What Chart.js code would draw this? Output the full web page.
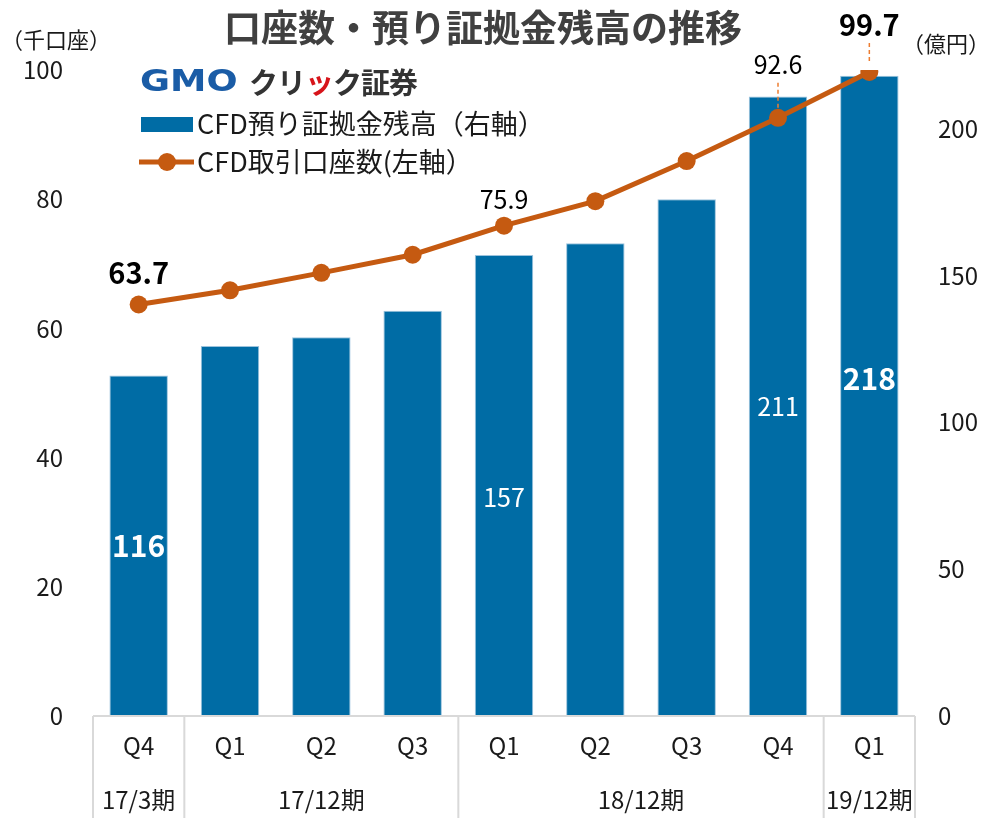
<!DOCTYPE html>
<html lang="ja">
<head>
<meta charset="utf-8">
<title>口座数・預り証拠金残高の推移</title>
<script src="https://cdn.jsdelivr.net/npm/chart.js@4/dist/chart.umd.min.js"></script>
<style>
  html, body { margin: 0; padding: 0; background: #fff; }
  #wrap { position: relative; width: 984px; height: 818px; }
</style>
</head>
<body>
<div id="wrap"><canvas id="chart"></canvas></div>
<script>
// data
const quarters = ['Q4', 'Q1', 'Q2', 'Q3', 'Q1', 'Q2', 'Q3', 'Q4', 'Q1'];
const fiscalGroups = [
  { label: '17/3期', from: 0, to: 0 },
  { label: '17/12期', from: 1, to: 3 },
  { label: '18/12期', from: 4, to: 7 },
  { label: '19/12期', from: 8, to: 8 }
];
const marginBalance = [116, 126, 129, 138, 157, 161, 176, 211, 218]; // 億円, right axis
const accountCount = [63.7, 65.9, 68.6, 71.4, 75.9, 79.7, 85.9, 92.6, 99.7]; // 千口座, left axis
const leftTicks = [0, 20, 40, 60, 80, 100];
const rightTicks = [0, 50, 100, 150, 200];

// which points carry a value label, and how it looks
const lineLabels = [
  { index: 0, bold: true, lift: 32, leader: false },
  { index: 4, bold: false, lift: 26, leader: false },
  { index: 7, bold: false, lift: 53, leader: true },
  { index: 8, bold: true, lift: 47, leader: true }
];
const barLabels = [
  { index: 0, bold: true, dy: 0 },
  { index: 4, bold: false, dy: 12 },
  { index: 7, bold: false, dy: 0 },
  { index: 8, bold: true, dy: -17 }
];

const FONT = "'Noto Sans CJK JP', 'Noto Sans', sans-serif";
const BAR_COLOR = '#006ca5';
const LINE_COLOR = '#c55a11';
const TEXT_COLOR = '#1a1a1a';
const FRAME_COLOR = '#d9d9d9';

// title, units, logo and legend
const headerPlugin = {
  id: 'header',
  afterDraw(chart) {
    const ctx = chart.ctx;
    ctx.save();
    ctx.textBaseline = 'middle';

    ctx.fillStyle = '#404040';
    ctx.textAlign = 'center';
    ctx.font = 'bold 37px ' + FONT;
    ctx.fillText('口座数・預り証拠金残高の推移', 483, 28);

    ctx.fillStyle = TEXT_COLOR;
    ctx.font = '22px ' + FONT;
    ctx.fillText('（千口座）', 56, 40);
    ctx.fillText('（億円）', 946, 44);

    // logo
    ctx.save();
    ctx.translate(140, 83);
    ctx.scale(1.22, 1);
    ctx.textAlign = 'left';
    ctx.fillStyle = '#1a5ca6';
    ctx.font = 'bold 30px "DejaVu Sans"';
    ctx.fillText('GMO', 0, 0);
    ctx.restore();
    ctx.textAlign = 'left';
    ctx.font = 'bold 29px ' + FONT;
    let x = 249;
    for (const ch of ['ク', 'リ', 'ッ', 'ク', '証', '券']) {
      ctx.fillStyle = ch === 'ッ' ? '#d7141a' : '#333333';
      ctx.fillText(ch, x, 83);
      x += ctx.measureText(ch).width - 1;
    }

    // legend
    ctx.fillStyle = BAR_COLOR;
    ctx.fillRect(141, 117, 52, 15);
    ctx.strokeStyle = LINE_COLOR;
    ctx.lineWidth = 5;
    ctx.beginPath();
    ctx.moveTo(139, 162);
    ctx.lineTo(194, 162);
    ctx.stroke();
    ctx.fillStyle = LINE_COLOR;
    ctx.beginPath();
    ctx.arc(167, 162, 9, 0, Math.PI * 2);
    ctx.fill();

    ctx.fillStyle = TEXT_COLOR;
    ctx.font = '27px ' + FONT;
    ctx.fillText('CFD預り証拠金残高（右軸）', 197, 124);
    ctx.fillText('CFD取引口座数(左軸）', 197, 162);
    ctx.restore();
  }
};

// category frame: base line, period separators and period names
const framePlugin = {
  id: 'frame',
  afterDraw(chart) {
    const ctx = chart.ctx;
    const xs = chart.scales.x;
    const area = chart.chartArea;
    const step = (area.right - area.left) / quarters.length;
    ctx.save();
    ctx.strokeStyle = FRAME_COLOR;
    ctx.lineWidth = 2;
    ctx.beginPath();
    ctx.moveTo(area.left, area.bottom);
    ctx.lineTo(area.right, area.bottom);
    fiscalGroups.forEach((g, i) => {
      const left = xs.getPixelForValue(g.from) - step / 2;
      const right = xs.getPixelForValue(g.to) + step / 2;
      if (i === 0) {
        ctx.moveTo(left, area.bottom);
        ctx.lineTo(left, chart.height);
      }
      ctx.moveTo(right, area.bottom);
      ctx.lineTo(right, chart.height);
    });
    ctx.stroke();

    ctx.fillStyle = TEXT_COLOR;
    ctx.font = '24px ' + FONT;
    ctx.textAlign = 'center';
    ctx.textBaseline = 'middle';
    fiscalGroups.forEach(g => {
      const cx = (xs.getPixelForValue(g.from) + xs.getPixelForValue(g.to)) / 2;
      ctx.fillText(g.label, cx, 800);
    });
    ctx.restore();
  }
};

// value labels on the bars and the line
const valuePlugin = {
  id: 'values',
  afterDatasetsDraw(chart) {
    const ctx = chart.ctx;
    const bars = chart.getDatasetMeta(0).data;
    const points = chart.getDatasetMeta(1).data;
    ctx.save();
    ctx.textAlign = 'center';
    ctx.textBaseline = 'middle';

    barLabels.forEach(l => {
      const bar = bars[l.index];
      ctx.fillStyle = '#ffffff';
      ctx.font = (l.bold ? 'bold 30px ' : '25px ') + FONT;
      ctx.fillText(String(marginBalance[l.index]), bar.x, (bar.y + bar.base) / 2 + l.dy);
    });

    lineLabels.forEach(l => {
      const p = points[l.index];
      const ty = p.y - l.lift;
      if (l.leader) {
        ctx.strokeStyle = '#ed7d31';
        ctx.lineWidth = 1.5;
        ctx.setLineDash([4, 3]);
        ctx.beginPath();
        ctx.moveTo(p.x, ty + 18);
        ctx.lineTo(p.x, p.y - 9);
        ctx.stroke();
        ctx.setLineDash([]);
      }
      ctx.fillStyle = '#000000';
      ctx.font = (l.bold ? 'bold 29px ' : '25px ') + FONT;
      ctx.fillText(accountCount[l.index].toFixed(1), p.x, ty);
    });
    ctx.restore();
  }
};

const ctx = document.getElementById('chart').getContext('2d');
new Chart(ctx, {
  data: {
    labels: quarters,
    datasets: [{
      type: 'bar',
      label: 'CFD預り証拠金残高（右軸）',
      data: marginBalance,
      yAxisID: 'yR',
      backgroundColor: BAR_COLOR,
      borderColor: '#9cc3dd',
      borderWidth: 1,
      categoryPercentage: 1,
      barPercentage: 0.64,
      order: 1
    }, {
      type: 'line',
      label: 'CFD取引口座数(左軸）',
      data: accountCount,
      yAxisID: 'yL',
      borderColor: LINE_COLOR,
      backgroundColor: LINE_COLOR,
      borderWidth: 5,
      pointRadius: 9,
      pointBorderWidth: 0,
      pointBackgroundColor: LINE_COLOR,
      tension: 0,
      order: 0
    }]
  },
  options: {
    responsive: true,
    maintainAspectRatio: false,
    animation: false,
    layout: { padding: { top: 70, left: 0, right: 0, bottom: 0 } },
    plugins: {
      legend: { display: false },
      title: { display: false },
      tooltip: { enabled: false }
    },
    scales: {
      x: {
        offset: true,
        grid: { display: false, drawTicks: false },
        border: { display: false },
        ticks: { color: TEXT_COLOR, padding: 15, font: { family: FONT, size: 24 } },
        afterFit: s => { s.height = 102; }
      },
      yL: {
        position: 'left',
        min: 0,
        max: 100,
        grid: { display: false, drawTicks: false },
        border: { display: false },
        ticks: { color: TEXT_COLOR, padding: 30, font: { family: FONT, size: 24 } },
        afterBuildTicks: s => { s.ticks = leftTicks.map(v => ({ value: v })); },
        afterFit: s => { s.width = 93; }
      },
      yR: {
        position: 'right',
        min: 0,
        max: 220,
        grid: { display: false, drawTicks: false },
        border: { display: false },
        ticks: { color: TEXT_COLOR, padding: 23, font: { family: FONT, size: 24 } },
        afterBuildTicks: s => { s.ticks = rightTicks.map(v => ({ value: v })); },
        afterFit: s => { s.width = 69; }
      }
    }
  },
  plugins: [headerPlugin, framePlugin, valuePlugin]
});
</script>
</body>
</html>
